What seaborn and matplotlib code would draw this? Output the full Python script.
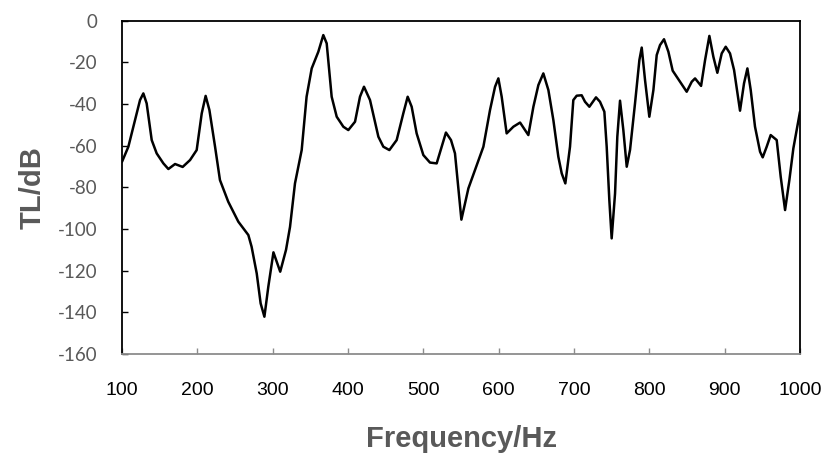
import matplotlib
matplotlib.use("Agg")
import matplotlib.pyplot as plt
import seaborn as sns
import pandas as pd

# transmission loss curve
freq = [100, 108.4, 117.3, 123.9, 128.3, 132.7, 139.4, 146, 154.9, 161.5,
        170.4, 180.5, 190.3, 199.1, 205.8, 211, 216, 223.5, 230, 241,
        254.4, 267.7, 272, 278.8, 284, 289, 294.2, 301, 310, 317.7,
        323, 329.6, 338.5, 345, 351.8, 360.6, 367.2, 371.7, 378.3, 385,
        393.8, 400.4, 409.3, 415.9, 421.2, 429.2, 440.3, 446.9, 454.9, 464.6,
        473.4, 479.2, 484.5, 491.1, 500, 508.8, 517.7, 524.3, 530, 536.7,
        542, 550.5, 559.8, 568.6, 579.7, 588.5, 595.2, 599.6, 604, 610.6,
        619.5, 628.4, 635, 639.4, 646.1, 652.7, 659.3, 666, 672.6, 679.2,
        683.7, 688.5, 694.7, 699.1, 703.6, 710.2, 714.6, 720.4, 729.2, 734.5,
        740.3, 743.4, 746.9, 750, 754.5, 757.5, 761.1, 765.5, 770, 774.4,
        781, 786.8, 789.9, 794.3, 800, 805.4, 809.8, 814.2, 819.5, 825.3,
        831, 839.9, 849.6, 856.3, 860.7, 868.7, 874, 879.7, 885, 890.3,
        896.1, 901.4, 907.1, 912.5, 920.4, 925.7, 930.2, 934.6, 940.3, 947,
        950.5, 955.8, 961.1, 969.1, 974.4, 980.2, 985.9, 991.2, 1000]
tl_db = [-67.7, -60.5, -47.7, -38.1, -34.9, -39.7, -57.3, -63.7, -68.5, -71.2,
         -68.8, -70.2, -66.9, -62.1, -44.5, -36.1, -42.9, -60.5, -76.5, -86.9,
         -96.5, -102.9, -108.5, -121.3, -135.7, -142.1, -127.7, -111.2, -120.5, -110,
         -99, -78.1, -62.1, -36.5, -22.9, -14.9, -6.9, -10.9, -36.5, -46.1,
         -50.9, -52.5, -48.5, -36.5, -31.7, -38.1, -55.7, -60.5, -62.1, -57.3,
         -44.5, -36.5, -41.3, -54.1, -64.5, -68.1, -68.5, -60.5, -53.7, -57.3,
         -63.7, -95.5, -80.5, -71.7, -60.5, -42.9, -31.7, -27.7, -36.5, -54.1,
         -50.9, -48.9, -52.5, -54.9, -41.3, -30.9, -25.3, -33.3, -47.7, -65.3,
         -73.3, -78.1, -60.5, -38.1, -36, -35.8, -38.9, -41.3, -36.8, -38.9,
         -43.7, -60.5, -86.1, -104.5, -82.9, -55.7, -38.4, -52.5, -70.1, -62,
         -39.7, -18.9, -12.9, -28.5, -46.1, -33.3, -16.5, -11.7, -8.9, -14.9,
         -24, -28.8, -34.1, -29.3, -27.7, -31.3, -18.9, -7.3, -17.3, -25,
         -15.7, -12.5, -15.7, -23.7, -43.2, -30.1, -22.9, -33.3, -50.9, -62.9,
         -65.6, -60.5, -54.9, -57.3, -74.9, -90.9, -76.5, -61.3, -43.7]
x_ticks = [100, 200, 300, 400, 500, 600, 700, 800, 900, 1000]
y_ticks = [0, -20, -40, -60, -80, -100, -120, -140, -160]

df = pd.DataFrame({"Frequency/Hz": freq, "TL/dB": tl_db})

sns.set_style("white")
plt.rcParams["font.family"] = ["Liberation Sans", "DejaVu Sans"]

fig = plt.figure(figsize=(8.29, 4.57), dpi=100)
ax = fig.add_axes([0.1472, 0.2254, 0.8178, 0.7293])

sns.lineplot(data=df, x="Frequency/Hz", y="TL/dB", ax=ax, color="black",
             linewidth=1.8, sort=False)
ax.lines[0].set_solid_joinstyle("round")
ax.lines[0].set_solid_capstyle("round")

ax.set_xlim(100, 1000)
ax.set_ylim(-160, 0)
ax.set_xticks(x_ticks)
ax.set_yticks(y_ticks)
ax.set_xticklabels([str(t) for t in x_ticks], fontsize=14, color="black")
ax.set_yticklabels([str(t) for t in y_ticks],
                   family=["Lato", "DejaVu Sans"],
                   fontsize=13.5, color="#595959")

for side in ["left", "top", "right"]:
    ax.spines[side].set_color("black")
    ax.spines[side].set_linewidth(1.3)
ax.spines["bottom"].set_color("#8c8c8c")
ax.spines["bottom"].set_linewidth(1.3)

ax.tick_params(axis="y", direction="in", length=4, width=1, color="black",
               pad=18, left=True)
ax.tick_params(axis="x", direction="in", length=4, width=1, color="#8c8c8c",
               pad=20, bottom=True)

ax.set_xlabel("Frequency/Hz", fontsize=21, fontweight="bold",
              color="#595959", labelpad=19)
ax.set_ylabel("TL/dB", fontsize=21, fontweight="bold",
              color="#595959", labelpad=8)

fig.savefig("out.png", dpi=100)
